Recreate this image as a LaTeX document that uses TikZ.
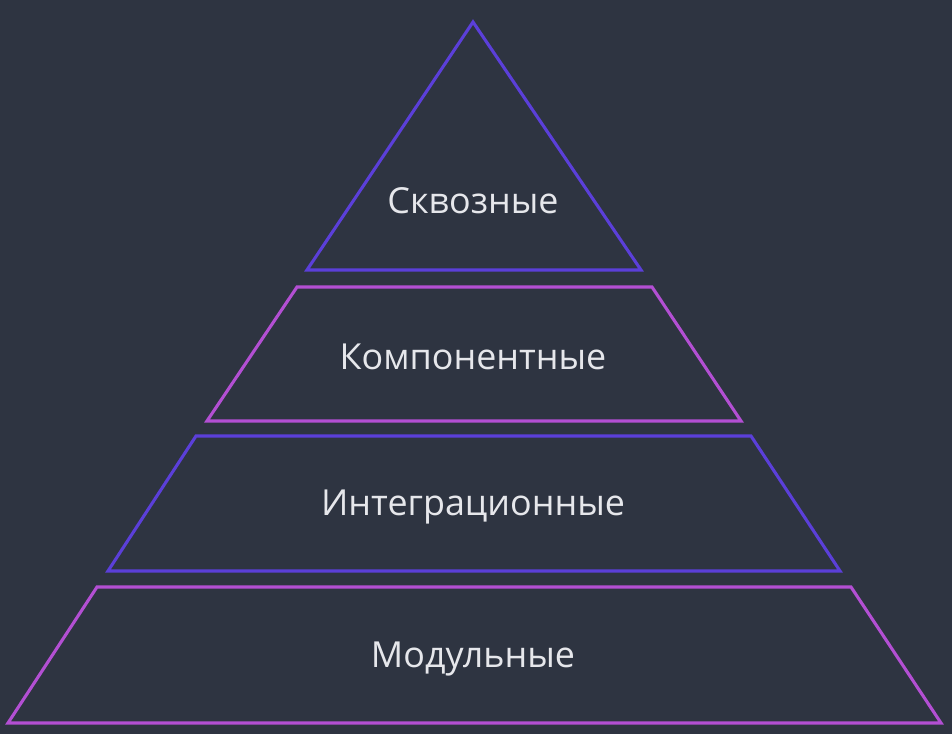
\documentclass[tikz,border=0pt]{standalone}
\usepackage{fontspec}
\setmainfont{Open Sans}
\usetikzlibrary{positioning}

\definecolor{bgdark}{HTML}{2E3441}
\definecolor{layerblue}{HTML}{5B3FD9}
\definecolor{layerpink}{HTML}{B34FD3}
\definecolor{labeltext}{HTML}{E6E7EB}

\tikzset{
  layer/.style={line width=2.2pt, line join=miter},
  label/.style={draw=none, text=labeltext, font=\fontsize{25.5}{30}\selectfont}
}

\begin{document}
\begin{tikzpicture}[x=0.025cm, y=-0.025cm]
  % Background
  \fill[bgdark] (0,0) rectangle (952,734);
  \useasboundingbox (0,0) rectangle (952,734);

  % Top: end-to-end
  \draw[layer, draw=layerblue] (473,22) -- (641,270) -- (307,270) -- cycle;
  \node[label] (e2e) at (473,201) {Сквозные};

  % Component layer
  \draw[layer, draw=layerpink] (297,287) -- (652,287) -- (741,421) -- (207,421) -- cycle;
  \node[label] (comp) at (473,357) {Компонентные};

  % Integration layer
  \draw[layer, draw=layerblue] (196,436) -- (751,436) -- (840,571) -- (108,571) -- cycle;
  \node[label] (integ) at (473,507) {Интеграционные};

  % Unit layer
  \draw[layer, draw=layerpink] (97,587) -- (851,587) -- (941,723) -- (8,723) -- cycle;
  \node[label] (unit) at (473,659) {Модульные};
\end{tikzpicture}
\end{document}
